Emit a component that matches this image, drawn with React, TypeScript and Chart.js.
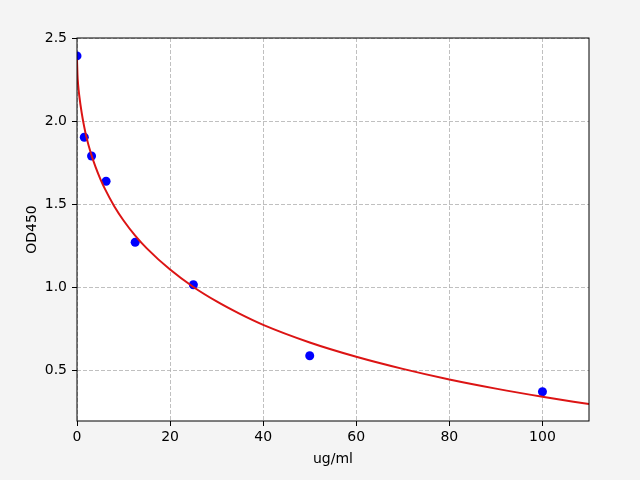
import { useEffect, useRef } from "react";
import { Chart, registerables } from "chart.js";

Chart.register(...registerables);

// Measured standards (blue dots)
const pointsX = [0, 1.5625, 3.125, 6.25, 12.5, 25, 50, 100];
const pointsY = [2.392, 1.902, 1.789, 1.637, 1.27, 1.014, 0.586, 0.369];

// Fitted curve (red line)
const curveX = [0, 0.1, 0.25, 0.5, 1, 1.5, 2, 3, 4, 5, 6, 8, 10, 12.5, 15, 20, 25, 30, 35, 40, 50, 60, 70, 80, 90, 100, 110];
const curveY = [2.37, 2.28, 2.215, 2.15, 2.05, 1.972, 1.906, 1.804, 1.722, 1.652, 1.591, 1.487, 1.401, 1.31, 1.233, 1.105, 1.0, 0.913, 0.838, 0.772, 0.666, 0.58, 0.507, 0.443, 0.388, 0.339, 0.295];

const xTicks = [0, 20, 40, 60, 80, 100];
const yTicks = [0.5, 1.0, 1.5, 2.0, 2.5];
const xLabel = "ug/ml";
const yLabel = "OD450";

export default function App() {
  const ref = useRef<HTMLCanvasElement>(null);

  useEffect(() => {
    document.body.style.margin = "0";
    const canvas = ref.current;
    if (!canvas) return;

    const font = { family: "'DejaVu Sans', sans-serif", size: 14 };

    const frame = {
      id: "frame",
      beforeDraw(c: any) {
        const ctx = c.ctx;
        const a = c.chartArea;
        ctx.save();
        ctx.fillStyle = "#f4f4f4";
        ctx.fillRect(0, 0, c.width, c.height);
        ctx.fillStyle = "#ffffff";
        ctx.fillRect(a.left, a.top, a.right - a.left, a.bottom - a.top);
        ctx.restore();
      },
      afterDatasetsDraw(c: any) {
        const ctx = c.ctx;
        const a = c.chartArea;
        ctx.save();
        ctx.strokeStyle = "#000000";
        ctx.lineWidth = 1;
        ctx.strokeRect(a.left, a.top, a.right - a.left, a.bottom - a.top);
        ctx.restore();
      },
    };

    const chart = new Chart(canvas, {
      type: "scatter",
      data: {
        datasets: [
          {
            type: "line",
            data: curveX.map((x, i) => ({ x, y: curveY[i] })),
            borderColor: "#dc1414",
            borderWidth: 2,
            pointRadius: 0,
            fill: false,
            cubicInterpolationMode: "monotone",
            clip: 0,
          } as any,
          {
            type: "scatter",
            data: pointsX.map((x, i) => ({ x, y: pointsY[i] })),
            backgroundColor: "#0000ff",
            borderColor: "#0000ff",
            borderWidth: 0,
            pointRadius: 4.5,
            clip: 0,
          } as any,
        ],
      },
      options: {
        responsive: false,
        animation: false,
        devicePixelRatio: 1,
        layout: { padding: { top: 38, right: 51, left: 0, bottom: 0 } },
        plugins: {
          legend: { display: false },
          tooltip: { enabled: false },
        },
        scales: {
          x: {
            type: "linear",
            min: 0,
            max: 110,
            afterBuildTicks: (s: any) => {
              s.ticks = xTicks.map((v) => ({ value: v }));
            },
            afterFit: (s: any) => {
              s.height = 59;
            },
            grid: {
              color: "#b0b0b0",
              lineWidth: 0.8,
              tickColor: "#000000",
              tickLength: 5,
              tickWidth: 1,
              tickBorderDash: [],
            },
            border: { display: false, dash: [4, 2] },
            ticks: {
              color: "#000000",
              font,
              padding: 3,
              autoSkip: false,
              maxRotation: 0,
              callback: (v: any) => String(v),
            },
            title: {
              display: true,
              text: xLabel,
              color: "#000000",
              font,
              padding: { top: 0, bottom: 12.6 },
            },
          },
          y: {
            type: "linear",
            min: 0.193,
            max: 2.5,
            afterBuildTicks: (s: any) => {
              s.ticks = yTicks.map((v) => ({ value: v }));
            },
            afterFit: (s: any) => {
              s.width = 77;
            },
            grid: {
              color: "#b0b0b0",
              lineWidth: 0.8,
              tickColor: "#000000",
              tickLength: 5,
              tickWidth: 1,
              tickBorderDash: [],
            },
            border: { display: false, dash: [4, 2] },
            ticks: {
              color: "#000000",
              font,
              padding: 5,
              autoSkip: false,
              callback: (v: any) => Number(v).toFixed(1),
            },
            title: {
              display: true,
              text: yLabel,
              color: "#000000",
              font,
              padding: { top: 23.6, bottom: 0 },
            },
          },
        },
      },
      plugins: [frame],
    } as any);

    return () => chart.destroy();
  }, []);

  return (
    <canvas
      ref={ref}
      width={640}
      height={480}
      style={{ display: "block", width: 640, height: 480 }}
    />
  );
}
